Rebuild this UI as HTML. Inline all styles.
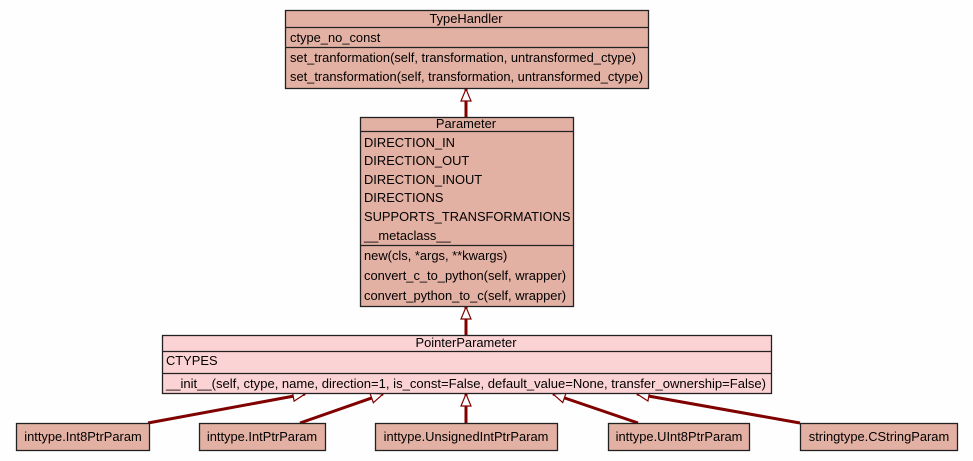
<!DOCTYPE html>
<html><head><style>
body{margin:0;background:#fefefe;}
svg{display:block;font-family:"Liberation Sans",sans-serif;font-size:12.9px;}
</style></head><body>
<svg width="973" height="461" viewBox="0 0 973 461" xmlns="http://www.w3.org/2000/svg">
<defs>
<marker id="a" markerUnits="userSpaceOnUse" markerWidth="16" markerHeight="14" refX="13" refY="6" orient="auto">
<path d="M1,1 L13,6 L1,11 Z" fill="#fff" stroke="#800000" stroke-width="1.2"/>
</marker>
</defs>
<g stroke="#800000" stroke-width="3" fill="none">
<line x1="466" y1="117" x2="466" y2="89" marker-end="url(#a)"/>
<line x1="466" y1="335" x2="466" y2="307" marker-end="url(#a)"/>
<line x1="148" y1="423" x2="305" y2="394" marker-end="url(#a)"/>
<line x1="300" y1="423" x2="383" y2="394" marker-end="url(#a)"/>
<line x1="466" y1="423" x2="466" y2="394" marker-end="url(#a)"/>
<line x1="638" y1="423" x2="553" y2="394" marker-end="url(#a)"/>
<line x1="800" y1="423" x2="637" y2="394" marker-end="url(#a)"/>
</g>
<g stroke="#222" stroke-width="1.3">
<rect x="285.5" y="10.5" width="363" height="78" fill="#e3b1a3"/>
<line x1="285" y1="27.5" x2="648" y2="27.5"/><line x1="285" y1="47.5" x2="648" y2="47.5"/>
<rect x="360.5" y="117.5" width="213" height="189" fill="#e3b1a3"/>
<line x1="360" y1="131.5" x2="573" y2="131.5"/><line x1="360" y1="245.5" x2="573" y2="245.5"/>
<rect x="162.5" y="335.5" width="609" height="58" fill="#fcd3d5"/>
<line x1="162" y1="351.5" x2="771" y2="351.5"/><line x1="162" y1="373.5" x2="771" y2="373.5"/>
<g fill="#e3b1a3">
<rect x="16.5" y="423.5" width="133" height="27"/>
<rect x="199.5" y="423.5" width="126" height="27"/>
<rect x="375.5" y="423.5" width="182" height="27"/>
<rect x="608.5" y="423.5" width="141" height="27"/>
<rect x="800.5" y="423.5" width="157" height="27"/>
</g>
</g>
<g fill="#000">
<text x="466" y="23" text-anchor="middle">TypeHandler</text>
<text x="290" y="42">ctype_no_const</text>
<text x="290" y="62" textLength="346" lengthAdjust="spacingAndGlyphs">set_tranformation(self, transformation, untransformed_ctype)</text>
<text x="290" y="81" textLength="353" lengthAdjust="spacingAndGlyphs">set_transformation(self, transformation, untransformed_ctype)</text>
<text x="466" y="128" text-anchor="middle">Parameter</text>
<text x="364" y="147">DIRECTION_IN</text>
<text x="364" y="165">DIRECTION_OUT</text>
<text x="364" y="184">DIRECTION_INOUT</text>
<text x="364" y="202">DIRECTIONS</text>
<text x="364" y="221">SUPPORTS_TRANSFORMATIONS</text>
<text x="364" y="240">__metaclass__</text>
<text x="364" y="260">new(cls, *args, **kwargs)</text>
<text x="364" y="280">convert_c_to_python(self, wrapper)</text>
<text x="364" y="300">convert_python_to_c(self, wrapper)</text>
<text x="466" y="347" text-anchor="middle">PointerParameter</text>
<text x="166" y="365">CTYPES</text>
<text x="166" y="388" textLength="600" lengthAdjust="spacingAndGlyphs">__init__(self, ctype, name, direction=1, is_const=False, default_value=None, transfer_ownership=False)</text>
<text x="83" y="441" text-anchor="middle">inttype.Int8PtrParam</text>
<text x="262" y="441" text-anchor="middle">inttype.IntPtrParam</text>
<text x="466" y="441" text-anchor="middle">inttype.UnsignedIntPtrParam</text>
<text x="679" y="441" text-anchor="middle">inttype.UInt8PtrParam</text>
<text x="879" y="441" text-anchor="middle">stringtype.CStringParam</text>
</g>
</svg>
</body></html>
